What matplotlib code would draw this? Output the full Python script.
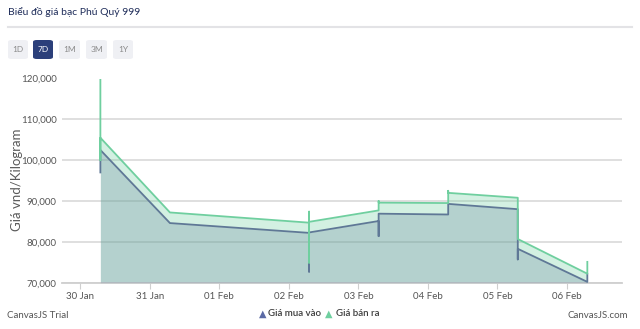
import matplotlib
matplotlib.use("Agg")
import matplotlib.pyplot as plt
import matplotlib.dates as mdates
from matplotlib.patches import FancyBboxPatch
from matplotlib.ticker import FuncFormatter
import numpy as np
from datetime import datetime

plt.rcParams['font.family'] = ['Lato', 'DejaVu Sans']

title = "Biểu đồ giá bạc Phú Quý 999"
ylabel = "Giá vnd/Kilogram"
buttons = ["1D", "7D", "1M", "3M", "1Y"]
series_names = ["Giá mua vào", "Giá bán ra"]

times = ["2026-01-30 07:00", "2026-01-31 07:00", "2026-02-02 07:00", "2026-02-03 07:00",
         "2026-02-04 07:00", "2026-02-05 07:00", "2026-02-06 07:00"]
# several prices recorded at the same time -> vertical jumps
buy = [[97000, 102500], [84600], [82200, 72700, 82300], [85100, 81400, 86900],
       [86700, 89300], [88000, 75700, 78300], [70200, 72100]]
sell = [[120000, 100000, 105500], [87200], [84700, 87400, 74900, 84900], [87700, 90000, 89600],
        [89500, 92500, 92000], [90800, 80700], [72200, 75100]]

blue_line = "#5f7896"
green_line = "#6fcf9f"


def flatten(ts, vals):
    xs, ys = [], []
    for t, v in zip(ts, vals):
        d = mdates.date2num(datetime.strptime(t, "%Y-%m-%d %H:%M"))
        for y in v:
            xs.append(d)
            ys.append(y)
    return np.array(xs), np.array(ys)


bx, by = flatten(times, buy)
sx, sy = flatten(times, sell)

W, H = 640, 329
fig = plt.figure(figsize=(6.4, 3.29), dpi=100)


def fx(px):
    return px / W


def fy(py):
    return 1 - py / H


ax = fig.add_axes([fx(62), fy(282.7), fx(622) - fx(62), fy(78.5) - fy(282.7)])
ymin, ymax = 70000, 120000
ax.set_ylim(ymin, ymax)
x0 = mdates.date2num(datetime(2026, 1, 30))
ax.set_xlim(x0 - 0.26, x0 + 7.79)

ax.fill_between(sx, sy, ymin, color=green_line, alpha=0.3, lw=0, zorder=2)
ax.fill_between(bx, by, ymin, color="#5a7896", alpha=0.25, lw=0, zorder=3)
ax.plot(bx, by, color=blue_line, lw=1.3, zorder=4)
ax.plot(sx, sy, color=green_line, lw=1.3, zorder=5)

ax.set_yticks(np.arange(70000, 120001, 10000))
ax.yaxis.set_major_formatter(FuncFormatter(lambda v, p: f"{int(v):,}"))
ax.grid(axis="y", color="#dcdcdc", lw=1.3, zorder=0)
ax.xaxis.set_major_locator(mdates.DayLocator())
ax.xaxis.set_major_formatter(mdates.DateFormatter("%d %b"))
for s in ["top", "right", "left"]:
    ax.spines[s].set_visible(False)
ax.spines["bottom"].set_color("#cfcfcf")
ax.spines["bottom"].set_linewidth(1.3)
ax.tick_params(axis="y", length=0, pad=4, labelsize=7, labelcolor="#555555")
ax.tick_params(axis="x", length=4, color="#cfcfcf", pad=3, labelsize=7, labelcolor="#555555")
ax.set_axisbelow(True)

fig.text(fx(17), fy(180), ylabel, rotation=90, ha="center", va="center", fontsize=9.5, color="#5a5a5a")

# header
fig.text(fx(8), fy(12), title, ha="left", va="center", fontsize=7.5, color="#1f2d5a")
fig.add_artist(plt.Line2D([fx(8), fx(632)], [fy(27), fy(27)], color="#e3e3e6", lw=1.5))
btn_x = [(8, 28), (33, 53), (59, 80), (86, 107), (113, 133)]
for name, (a, b) in zip(buttons, btn_x):
    sel = name == "7D"
    fig.add_artist(FancyBboxPatch((fx(a), fy(59)), fx(b - a), fy(40) - fy(59),
                                  boxstyle="round,pad=0,rounding_size=0.006",
                                  fc="#2b3f7a" if sel else "#eff0f4", ec="none",
                                  transform=fig.transFigure))
    fig.text(fx((a + b) / 2), fy(49.5), name, ha="center", va="center", fontsize=6,
             color="white" if sel else "#8a8a8a")

# legend + credits
fig.text(fx(262.7), fy(314), "▲", ha="center", va="center", fontsize=7, color="#5b6aa5",
         family="DejaVu Sans")
fig.text(fx(268), fy(314), series_names[0], ha="left", va="center", fontsize=7,
         color="#3c3c3c", fontweight="semibold")
fig.text(fx(329), fy(314), "▲", ha="center", va="center", fontsize=7, color=green_line,
         family="DejaVu Sans")
fig.text(fx(336), fy(314), series_names[1], ha="left", va="center", fontsize=7,
         color="#3c3c3c", fontweight="semibold")
fig.text(fx(7), fy(316), "CanvasJS Trial", ha="left", va="center", fontsize=7, color="#555555")
fig.text(fx(628), fy(316), "CanvasJS.com", ha="right", va="center", fontsize=7, color="#555555")

fig.savefig("out.png", dpi=100)
